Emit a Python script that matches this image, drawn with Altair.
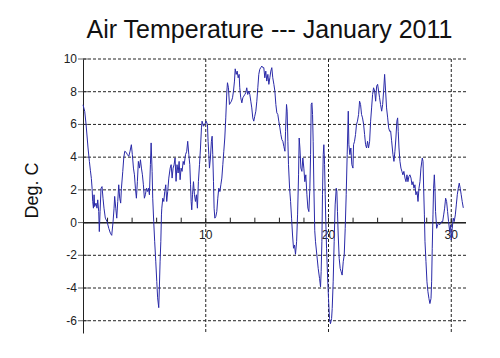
import altair as alt
import pandas as pd

days = [0.00,0.14,0.25,0.41,0.52,0.60,0.68,0.74,0.79,0.85,0.90,0.95,1.06,1.14,1.20,1.28,1.33,1.39,1.47,1.55,1.63,1.71,1.82,1.96,2.10,2.23,2.34,2.45,2.53,2.58,2.67,2.75,2.83,2.91,2.99,3.07,3.13,3.24,3.32,3.40,3.51,3.62,3.73,3.83,3.94,4.02,4.11,4.19,4.27,4.35,4.43,4.51,4.60,4.68,4.76,4.84,4.92,5.00,5.08,5.17,5.25,5.33,5.41,5.49,5.55,5.63,5.68,5.76,5.84,5.93,6.01,6.08,6.17,6.22,6.28,6.34,6.39,6.42,6.50,6.58,6.66,6.74,6.82,6.90,6.99,7.10,7.18,7.26,7.34,7.42,7.50,7.58,7.66,7.75,7.83,7.91,7.99,8.07,8.16,8.24,8.35,8.45,8.53,8.62,8.70,8.76,8.81,8.86,8.92,9.00,9.08,9.16,9.24,9.32,9.40,9.49,9.57,9.65,9.70,9.81,9.92,10.03,10.14,10.19,10.25,10.30,10.38,10.46,10.52,10.57,10.63,10.68,10.74,10.82,10.90,10.98,11.06,11.15,11.23,11.31,11.39,11.47,11.55,11.63,11.72,11.77,11.85,11.93,12.01,12.09,12.18,12.26,12.34,12.40,12.48,12.56,12.64,12.72,12.77,12.85,12.94,13.02,13.10,13.18,13.26,13.34,13.42,13.51,13.59,13.67,13.75,13.83,13.91,13.99,14.08,14.16,14.24,14.32,14.40,14.48,14.57,14.65,14.73,14.81,14.89,14.97,15.06,15.14,15.22,15.30,15.38,15.46,15.55,15.63,15.71,15.79,15.87,15.95,16.04,16.12,16.20,16.28,16.36,16.45,16.50,16.58,16.63,16.69,16.74,16.83,16.91,16.99,17.07,17.15,17.23,17.31,17.40,17.48,17.56,17.61,17.67,17.75,17.83,17.91,17.99,18.07,18.15,18.24,18.32,18.40,18.48,18.54,18.59,18.65,18.70,18.75,18.81,18.88,18.94,19.05,19.16,19.27,19.35,19.40,19.46,19.51,19.57,19.62,19.68,19.73,19.78,19.84,19.92,20.00,20.08,20.16,20.25,20.30,20.38,20.46,20.54,20.63,20.68,20.73,20.79,20.87,20.95,21.03,21.11,21.20,21.28,21.36,21.44,21.52,21.61,21.66,21.74,21.82,21.90,21.99,22.04,22.12,22.20,22.28,22.36,22.45,22.53,22.61,22.69,22.77,22.86,22.94,23.02,23.10,23.18,23.26,23.35,23.43,23.51,23.59,23.67,23.76,23.84,23.92,24.00,24.08,24.16,24.24,24.33,24.41,24.49,24.57,24.65,24.73,24.82,24.90,24.98,25.06,25.14,25.25,25.33,25.41,25.49,25.57,25.63,25.68,25.74,25.82,25.90,25.98,26.06,26.14,26.23,26.31,26.39,26.47,26.55,26.63,26.72,26.80,26.88,26.96,27.04,27.12,27.21,27.29,27.37,27.45,27.53,27.64,27.70,27.75,27.81,27.86,27.94,28.02,28.10,28.18,28.26,28.35,28.40,28.45,28.51,28.56,28.62,28.67,28.72,28.81,28.89,28.97,29.05,29.13,29.21,29.30,29.38,29.46,29.54,29.62,29.70,29.78,29.87,29.95,30.00,30.08,30.16,30.24,30.33,30.41,30.49,30.57,30.65,30.73,30.81,30.89,30.98]
temps = [7.2,6.8,6.0,4.56,3.74,3.2,2.7,2.1,1.3,0.88,1.7,0.98,1.19,0.88,1.39,0.67,-0.55,0.67,2.1,2.2,1.49,0.88,0.27,0.06,-0.35,-0.65,-0.78,0.06,0.88,1.6,0.88,0.27,1.29,2.31,1.49,1.19,2.1,3.13,3.95,4.36,4.3,4.15,4.05,4.36,4.76,4.15,3.33,2.92,2.1,1.49,2.5,3.74,3.33,3.84,3.33,2.92,2.31,1.49,1.7,2.1,1.9,2.1,1.7,3.54,4.87,3.13,1.49,0.06,-1.17,-2.4,-3.6,-4.6,-5.2,-4.0,-2.4,-1.17,0.47,0.88,1.49,1.29,1.9,2.31,1.29,1.9,2.72,3.33,3.54,2.72,3.33,3.54,3.95,2.52,3.54,3.03,3.74,2.62,3.33,3.13,3.74,3.54,4.15,4.36,4.97,4.15,3.54,2.31,1.29,0.78,1.7,2.5,1.7,1.29,1.7,0.88,2.5,3.54,4.56,5.79,6.2,5.89,6.0,6.2,6.0,4.97,4.15,3.33,3.95,4.97,5.28,4.15,2.5,0.88,0.27,0.37,0.67,1.49,2.1,1.9,2.31,2.72,3.54,4.36,5.17,6.4,8.04,8.55,8.24,7.22,7.32,7.42,7.63,8.04,8.65,9.4,9.06,9.26,8.85,9.06,8.24,7.63,7.32,7.63,7.73,7.83,7.93,8.24,7.83,8.04,7.83,7.42,7.01,6.4,6.2,6.5,6.81,7.42,8.24,9.06,9.37,9.47,9.57,9.47,9.47,8.85,9.26,8.65,9.06,8.45,8.85,9.26,9.47,8.85,8.45,8.04,7.22,6.71,6.61,6.2,5.79,5.38,5.07,4.97,4.66,4.36,5.58,7.22,6.81,4.97,3.54,2.1,1.29,0.27,-0.76,-1.57,-1.37,-1.94,-1.17,0.47,2.92,5.17,4.56,3.33,3.13,3.95,3.33,2.5,2.92,1.7,0.88,0.67,2.1,4.15,7.22,7.32,6.61,4.97,2.1,-0.5,-1.17,-1.98,-2.8,-3.42,-3.93,-3.0,-1.17,1.7,4.15,4.76,3.54,1.7,0.06,-1.57,-3.21,-4.64,-5.87,-6.18,-5.87,-5.26,-3.62,-1.17,1.08,2.1,1.9,0.67,-0.76,-2.19,-2.8,-3.0,-3.21,-2.39,-1.98,-0.35,1.7,4.15,6.81,4.76,4.15,4.56,3.54,3.33,4.76,4.97,5.38,6.0,6.2,6.61,7.42,7.22,6.61,6.4,6.0,5.38,4.76,4.56,4.97,4.56,4.97,6.2,7.01,7.83,8.24,8.04,7.42,8.34,8.45,8.04,7.63,7.22,6.81,7.22,8.04,9.06,8.04,7.01,6.4,5.79,5.58,5.6,5.0,4.15,3.74,4.36,5.17,6.2,6.4,5.58,4.56,3.74,3.33,3.13,2.92,3.13,2.72,2.5,2.92,2.5,2.82,2.92,2.72,2.31,2.5,2.1,2.31,1.7,1.9,1.29,2.1,2.5,3.33,3.95,3.74,2.1,0.47,-1.17,-2.39,-3.62,-4.23,-4.64,-4.95,-4.64,-3.62,-1.57,0.47,2.1,2.92,2.1,0.67,-0.35,-0.14,-0.04,-0.14,-0.04,0.06,0.06,0.47,0.88,1.49,1.29,0.67,0.06,-0.55,-0.14,-1.06,-0.35,0.27,0.06,0.47,1.08,1.7,2.1,2.41,2.1,1.7,1.29,0.9]

y_ticks = [-6, -4, -2, 0, 2, 4, 6, 8, 10]
y_tick_labels = ["-6", "-4", "-2", "0", "2", "4", "6", "8", "10"]
y_grid = [-6, -4, -2, 2, 4, 6, 8, 10]
x_grid = [10, 20, 30]
x_minor = [2, 4, 6, 8, 12, 14, 16, 18, 22, 24, 26, 28]
x_labels = ["10", "20", "30"]

FONT = "Liberation Sans"
xs = alt.Scale(domain=[0, 31.2], nice=False, zero=False)
ys = alt.Scale(domain=[-6.75, 10], nice=False, zero=False)

line_df = pd.DataFrame({"day": days, "temp": temps})
hgrid_df = pd.DataFrame({"v": y_grid})
vgrid_df = pd.DataFrame({"d": x_grid})
ytick_df = pd.DataFrame({"v": y_ticks, "lab": y_tick_labels, "x0": [0] * len(y_ticks)})
xtick_df = pd.DataFrame({"d": x_minor + x_grid, "y0": [0.0] * 15, "y1": [0.3] * 15})
xlab_df = pd.DataFrame({"d": x_grid, "lab": x_labels, "y0": [0.0] * 3})

dash = [3, 2]

hgrid = alt.Chart(hgrid_df).mark_rule(color="#222", strokeWidth=1, strokeDash=dash).encode(
    y=alt.Y("v:Q", scale=ys, axis=alt.Axis(
        values=y_ticks, title="Deg. C", grid=False, ticks=False, tickSize=0, labels=False,
        domainColor="#222", domainWidth=1,
        titleFont=FONT, titleFontSize=18, titleFontWeight="normal", titleColor="#111",
        titleAngle=270, titleAlign="center", titleBaseline="middle",
        titleX=-51, titleY=131)))

vgrid = alt.Chart(vgrid_df).mark_rule(color="#222", strokeWidth=1, strokeDash=dash).encode(
    x=alt.X("d:Q", scale=xs, axis=None))

zero = alt.Chart(ytick_df).mark_rule(color="#222", strokeWidth=1).encode(
    y=alt.Y("x0:Q", scale=ys), x=alt.value(0), x2=alt.value(383))

yticks = alt.Chart(ytick_df).mark_tick(orient="horizontal", size=10, thickness=1, color="#222").encode(
    x=alt.X("x0:Q", scale=xs), y=alt.Y("v:Q", scale=ys))

ylabs = alt.Chart(ytick_df).mark_text(font=FONT, fontSize=12, align="right", baseline="middle",
                                      color="#222").encode(
    x=alt.value(-6), y=alt.Y("v:Q", scale=ys), text="lab:N")

xticks = alt.Chart(xtick_df).mark_rule(color="#222", strokeWidth=1).encode(
    x=alt.X("d:Q", scale=xs), y=alt.Y("y0:Q", scale=ys), y2="y1:Q")

xlabs = alt.Chart(xlab_df).mark_text(font=FONT, fontSize=12, baseline="top", dy=7, color="#222").encode(
    x=alt.X("d:Q", scale=xs), y=alt.Y("y0:Q", scale=ys), text="lab:N")

line = alt.Chart(line_df).mark_line(color="#2a2aa8", strokeWidth=1).encode(
    x=alt.X("day:Q", scale=xs), y=alt.Y("temp:Q", scale=ys))

chart = alt.layer(hgrid, vgrid, zero, xticks, yticks, ylabs, xlabs, line).properties(
    width=383, height=274,
    autosize="none",
    padding={"left": 75, "top": 51, "right": 10, "bottom": 10},
    title=alt.TitleParams("Air Temperature --- January 2011", font=FONT, fontSize=25,
                          fontWeight="normal", color="#111", anchor="middle", dx=-5, offset=10),
).configure_view(stroke=None)

chart.save("out.html", embed_options={"renderer": "svg", "actions": False})
